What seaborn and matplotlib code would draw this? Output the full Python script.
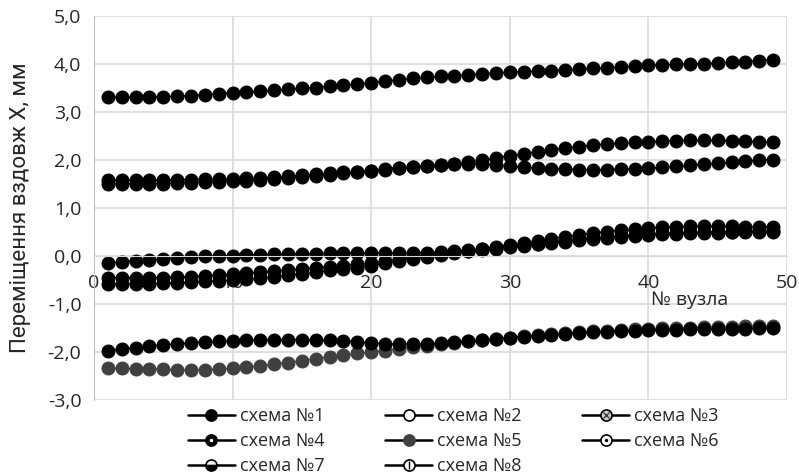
import numpy as np
import pandas as pd
import matplotlib
matplotlib.use("Agg")
import matplotlib.pyplot as plt
import seaborn as sns
from matplotlib.lines import Line2D
from matplotlib.legend_handler import HandlerTuple

# номери вузлів
nodes = list(range(1, 50))

s1 = [3.31, 3.31, 3.31, 3.32, 3.32, 3.33, 3.34, 3.36, 3.38, 3.40,
      3.41, 3.43, 3.45, 3.47, 3.49, 3.51, 3.54, 3.56, 3.58, 3.61,
      3.64, 3.67, 3.70, 3.72, 3.74, 3.76, 3.78, 3.80, 3.81, 3.83,
      3.84, 3.85, 3.86, 3.88, 3.89, 3.91, 3.92, 3.94, 3.95, 3.97,
      3.98, 3.99, 4.00, 4.01, 4.02, 4.04, 4.05, 4.07, 4.09]
s2 = [1.58, 1.58, 1.58, 1.58, 1.58, 1.59, 1.59, 1.60, 1.60, 1.61,
      1.62, 1.63, 1.64, 1.66, 1.68, 1.70, 1.72, 1.74, 1.76, 1.78,
      1.81, 1.84, 1.86, 1.88, 1.90, 1.92, 1.95, 1.99, 2.04, 2.09,
      2.13, 2.17, 2.21, 2.25, 2.28, 2.31, 2.33, 2.35, 2.37, 2.38,
      2.39, 2.40, 2.41, 2.41, 2.41, 2.40, 2.39, 2.38, 2.37]
s3 = [1.50, 1.50, 1.50, 1.51, 1.51, 1.52, 1.53, 1.54, 1.55, 1.56,
      1.57, 1.59, 1.61, 1.63, 1.65, 1.67, 1.69, 1.72, 1.74, 1.77,
      1.80, 1.83, 1.85, 1.87, 1.89, 1.91, 1.92, 1.92, 1.90, 1.87,
      1.85, 1.83, 1.82, 1.81, 1.80, 1.80, 1.80, 1.81, 1.82, 1.83,
      1.85, 1.87, 1.89, 1.91, 1.93, 1.95, 1.97, 1.99, 2.01]
s4 = [-0.15, -0.12, -0.10, -0.08, -0.06, -0.04, -0.02, -0.01, 0.00, 0.01,
      0.02, 0.03, 0.04, 0.04, 0.05, 0.05, 0.06, 0.06, 0.06, 0.06,
      0.06, 0.06, 0.07, 0.07, 0.08, 0.10, 0.12, 0.15, 0.19, 0.23,
      0.27, 0.32, 0.36, 0.40, 0.44, 0.48, 0.51, 0.54, 0.56, 0.58,
      0.60, 0.61, 0.62, 0.62, 0.62, 0.62, 0.61, 0.61, 0.60]
s5 = [-2.34, -2.34, -2.35, -2.35, -2.36, -2.37, -2.37, -2.37, -2.36, -2.34,
      -2.32, -2.29, -2.25, -2.22, -2.18, -2.14, -2.10, -2.07, -2.03, -2.00,
      -1.97, -1.93, -1.90, -1.87, -1.84, -1.81, -1.78, -1.75, -1.72, -1.70,
      -1.67, -1.65, -1.63, -1.61, -1.59, -1.57, -1.56, -1.54, -1.53, -1.52,
      -1.51, -1.50, -1.49, -1.48, -1.47, -1.47, -1.46, -1.46, -1.45]
s6 = [-0.45, -0.45, -0.45, -0.45, -0.45, -0.44, -0.43, -0.41, -0.40, -0.38,
      -0.36, -0.34, -0.32, -0.29, -0.27, -0.25, -0.22, -0.20, -0.17, -0.15,
      -0.11, -0.07, -0.02, 0.02, 0.05, 0.08, 0.11, 0.14, 0.17, 0.20,
      0.23, 0.26, 0.29, 0.32, 0.35, 0.38, 0.40, 0.42, 0.44, 0.46,
      0.47, 0.48, 0.49, 0.50, 0.51, 0.51, 0.52, 0.52, 0.52]
s7 = [-0.58, -0.58, -0.58, -0.58, -0.57, -0.56, -0.55, -0.53, -0.52, -0.50,
      -0.48, -0.46, -0.43, -0.40, -0.37, -0.34, -0.30, -0.27, -0.24, -0.20,
      -0.15, -0.11, -0.06, -0.02, 0.02, 0.06, 0.10, 0.12, 0.15, 0.18,
      0.21, 0.24, 0.27, 0.30, 0.33, 0.35, 0.38, 0.40, 0.42, 0.44,
      0.45, 0.46, 0.47, 0.48, 0.48, 0.49, 0.49, 0.50, 0.50]
s8 = [-1.98, -1.94, -1.91, -1.88, -1.85, -1.83, -1.81, -1.79, -1.78, -1.77,
      -1.76, -1.75, -1.74, -1.74, -1.74, -1.75, -1.76, -1.77, -1.79, -1.81,
      -1.83, -1.84, -1.84, -1.83, -1.81, -1.79, -1.77, -1.75, -1.72, -1.70,
      -1.68, -1.66, -1.64, -1.62, -1.60, -1.59, -1.58, -1.57, -1.56, -1.55,
      -1.54, -1.54, -1.53, -1.53, -1.52, -1.52, -1.52, -1.51, -1.51]

schemes = ["схема №1", "схема №2", "схема №3", "схема №4",
           "схема №5", "схема №6", "схема №7", "схема №8"]
series = [s1, s2, s3, s4, s5, s6, s7, s8]

y_ticks = [-3, -2, -1, 0, 1, 2, 3, 4, 5]
x_ticks = [0, 10, 20, 30, 40, 50]

rows = []
for name, vals in zip(schemes, series):
    for n, v in zip(nodes, vals):
        rows.append({"node": n, "value": v, "scheme": name})
df = pd.DataFrame(rows)

sns.set_style("white")
plt.rcParams["font.family"] = ["Open Sans", "DejaVu Sans"]

fig = plt.figure(figsize=(7.99, 4.76), dpi=100)
ax = fig.add_axes([94 / 799, 1 - 400 / 476, (787 - 94) / 799, 384 / 476])

# на графіку всі маркери зливаються в чорні, №5 - темно-сірий
palette = {s: "black" for s in schemes}
palette["схема №5"] = "#404040"
draw_order = ["схема №5", "схема №1", "схема №2", "схема №3",
              "схема №4", "схема №6", "схема №7", "схема №8"]
for s in draw_order:
    sns.lineplot(data=df[df["scheme"] == s], x="node", y="value",
                 color=palette[s], marker="o", markersize=9.3,
                 markeredgecolor=palette[s], linewidth=1,
                 legend=False, ax=ax)

ax.set_xlim(0, 50)
ax.set_ylim(-3, 5)
ax.set_yticks(y_ticks)
ax.set_yticklabels([f"{t:.1f}".replace(".", ",") for t in y_ticks])
ax.set_xticks(x_ticks)
ax.set_xticklabels([str(t) for t in x_ticks])
ax.grid(True, color="#d9d9d9", linewidth=1.2)
ax.set_axisbelow(True)
for side in ["top", "right"]:
    ax.spines[side].set_visible(False)
ax.spines["left"].set_color("#bfbfbf")
ax.spines["bottom"].set_position(("data", 0))
ax.spines["bottom"].set_color("#d9d9d9")
ax.tick_params(axis="both", length=0, labelsize=14, colors="#262626")
ax.tick_params(axis="x", pad=13)
ax.tick_params(axis="y", pad=9)

ax.set_xlabel("")
ax.set_ylabel("Переміщення вздовж X, мм", fontsize=16, family=["Roboto", "DejaVu Sans"],
              color="#262626")
ax.yaxis.set_label_coords(-63 / 693, 0.5)
ax.text(43, -0.92, "№ вузла", fontsize=14, ha="center", va="center", color="#262626")

# легенда з маркерами як в оригіналі
def mk(**kw):
    base = dict(color="black", linewidth=1.8, marker="o", markersize=8,
                markeredgecolor="black", markeredgewidth=1.2)
    base.update(kw)
    return Line2D([], [], **base)

def dot(m, size, color):
    return Line2D([], [], linestyle="none", marker=m, markersize=size,
                  color=color, markeredgecolor=color, markeredgewidth=1)

handles = [
    mk(markerfacecolor="black"),
    mk(markerfacecolor="white"),
    (mk(markerfacecolor="#d0d0d0"), dot("x", 4, "#404040")),
    (mk(markerfacecolor="black"), dot(".", 3, "white")),
    mk(markerfacecolor="#404040", markeredgecolor="#404040"),
    (mk(markerfacecolor="white"), dot(".", 3, "black")),
    mk(markerfacecolor="black", fillstyle="bottom", markerfacecoloralt="white"),
    (mk(markerfacecolor="white"), dot("|", 6, "black")),
]
# порядок по рядках: 1,2,3 / 4,5,6 / 7,8
order = [0, 3, 6, 1, 4, 7, 2, 5]
fig.legend([handles[i] for i in order], [schemes[i] for i in order],
           loc="upper left", bbox_to_anchor=(188 / 799, 1 - 407 / 476),
           ncol=3, frameon=False, fontsize=13, handlelength=2.6, handletextpad=0.28,
           columnspacing=3.35, labelspacing=0.4, borderpad=0, borderaxespad=0,
           handler_map={tuple: HandlerTuple(ndivide=1, pad=0)})

fig.savefig("out.png", dpi=100)
